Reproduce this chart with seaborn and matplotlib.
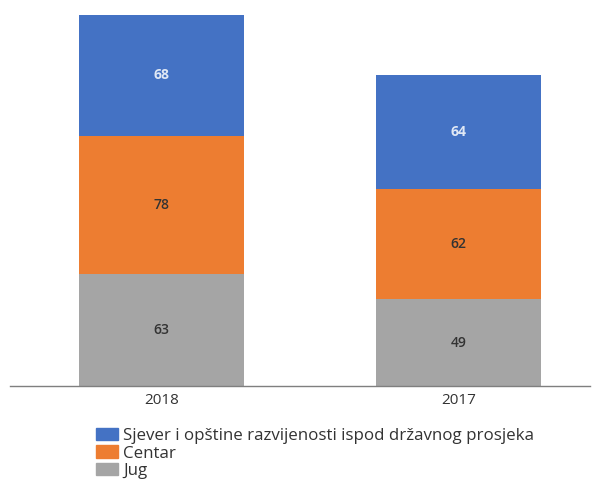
import pandas as pd
import matplotlib
matplotlib.use('Agg')
import matplotlib.pyplot as plt
import matplotlib.patches as mpatches
import seaborn as sns

years = ['2018', '2017']
jug = [63, 49]
centar = [78, 62]
sjever = [68, 64]
names = ['Sjever i opštine razvijenosti ispod državnog prosjeka', 'Centar', 'Jug']
colors = ['#4472C4', '#ED7D31', '#A5A5A5']

df = pd.DataFrame({'year': years, 'Jug': jug, 'Centar': centar, 'Sjever': sjever})
df['c_jug'] = df['Jug']
df['c_centar'] = df['Jug'] + df['Centar']
df['c_sjever'] = df['c_centar'] + df['Sjever']

sns.set_style('white')
plt.rcParams['font.family'] = ['Open Sans', 'DejaVu Sans']

fig = plt.figure(figsize=(6.01, 4.79), dpi=100)
ax = fig.add_axes([10 / 601, 1 - 386 / 479, 580 / 601, 371 / 479])

# stacked bars drawn as cumulative totals, biggest first
for col, c in zip(['c_sjever', 'c_centar', 'c_jug'], colors):
    sns.barplot(data=df, x='year', y=col, order=years, color=c, width=0.556,
                saturation=1, ax=ax, linewidth=0)

for i in range(len(years)):
    ax.text(i, jug[i] / 2, str(jug[i]), ha='center', va='center', fontsize=10,
            color='#333333', fontweight='semibold')
    ax.text(i, jug[i] + centar[i] / 2, str(centar[i]), ha='center', va='center', fontsize=10,
            color='#333333', fontweight='semibold')
    ax.text(i, jug[i] + centar[i] + sjever[i] / 2, str(sjever[i]), ha='center', va='center',
            fontsize=10, color='#E0E8F5', fontweight='bold')

ax.set_xlim(-0.510, 1.443)
ax.set_ylim(0, 209)
ax.set_yticks([])
ax.set_xlabel('')
ax.set_ylabel('')
for s in ['top', 'right', 'left']:
    ax.spines[s].set_visible(False)
ax.spines['bottom'].set_color('#7F7F7F')
ax.spines['bottom'].set_linewidth(1)
ax.tick_params(axis='x', length=0, labelsize=11, colors='#333333', pad=5)

handles = [mpatches.Patch(color=c, label=n) for c, n in zip(colors, names)]
fig.legend(handles=handles, loc='upper left', bbox_to_anchor=(96 / 601, 1 - 428 / 479),
           frameon=False, fontsize=12.2, handlelength=1.3, handleheight=0.75,
           handletextpad=0.3, labelspacing=0.08, borderaxespad=0, borderpad=0,
           labelcolor='#333333')

fig.savefig('out.png', dpi=100)
